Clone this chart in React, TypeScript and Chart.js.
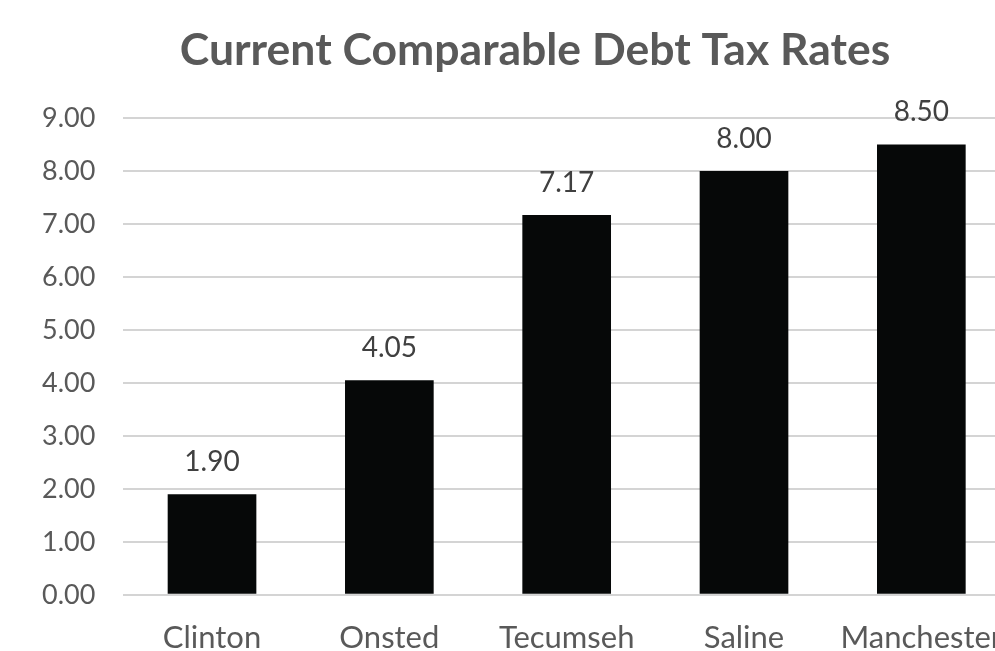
import React, { useEffect, useRef } from "react";
import { Chart, registerables } from "chart.js";

Chart.register(...registerables);

const TITLE = "Current Comparable Debt Tax Rates";
const CATEGORIES = ["Clinton", "Onsted", "Tecumseh", "Saline", "Manchester"];
const RATES = [1.9, 4.05, 7.17, 8.0, 8.5];
const Y_MIN = 0;
const Y_MAX = 9;
const Y_STEP = 1;

const valueLabels = {
  id: "valueLabels",
  afterDatasetsDraw(chart: any) {
    const ctx = chart.ctx;
    const meta = chart.getDatasetMeta(0);
    ctx.save();
    ctx.font = "28px Lato";
    ctx.fillStyle = "#404040";
    ctx.textAlign = "center";
    ctx.textBaseline = "alphabetic";
    meta.data.forEach((bar: any, i: number) => {
      const v = chart.data.datasets[0].data[i] as number;
      ctx.fillText(v.toFixed(2), bar.x, bar.y - 23);
    });
    ctx.restore();
  },
};

const titlePlugin = {
  id: "centeredTitle",
  afterDraw(chart: any) {
    const ctx = chart.ctx;
    ctx.save();
    ctx.font = "bold 44.5px Lato";
    ctx.fillStyle = "#595959";
    ctx.textAlign = "center";
    ctx.textBaseline = "alphabetic";
    ctx.fillText(TITLE, 535, 65);
    ctx.restore();
  },
};

export default function App() {
  const ref = useRef<HTMLCanvasElement | null>(null);
  useEffect(() => {
    if (!ref.current) return;
    const chart = new Chart(ref.current, {
      type: "bar",
      data: {
        labels: CATEGORIES,
        datasets: [
          {
            data: RATES,
            backgroundColor: "#060808",
            borderWidth: 0,
            barPercentage: 0.5,
            categoryPercentage: 1,
          },
        ],
      },
      options: {
        animation: false,
        responsive: false,
        devicePixelRatio: 1,
        layout: { padding: { left: 14, right: 60, top: 118, bottom: 0 } },
        plugins: {
          legend: { display: false },
          tooltip: { enabled: false },
          title: { display: false },
        },
        scales: {
          x: {
            grid: { display: false, drawTicks: false },
            border: { display: false },
            ticks: {
              color: "#595959",
              font: { family: "Lato", size: 31 },
              padding: 25,
              maxRotation: 0,
              autoSkip: false,
            },
          },
          y: {
            min: Y_MIN,
            max: Y_MAX,
            grid: { color: "#d4d4d4", lineWidth: 2, drawTicks: false },
            border: { display: false },
            ticks: {
              stepSize: Y_STEP,
              color: "#595959",
              font: { family: "Lato", size: 27 },
              padding: 28,
              callback: (v: any) => Number(v).toFixed(2),
            },
          },
        },
      },
      plugins: [valueLabels, titlePlugin],
    });
    return () => chart.destroy();
  }, []);
  return (
    <div
      style={{
        position: "absolute",
        left: 0,
        top: 0,
        width: 995,
        height: 651,
        overflow: "hidden",
        background: "#ffffff",
      }}
    >
      <canvas ref={ref} width={1070} height={682} style={{ display: "block" }} />
    </div>
  );
}
